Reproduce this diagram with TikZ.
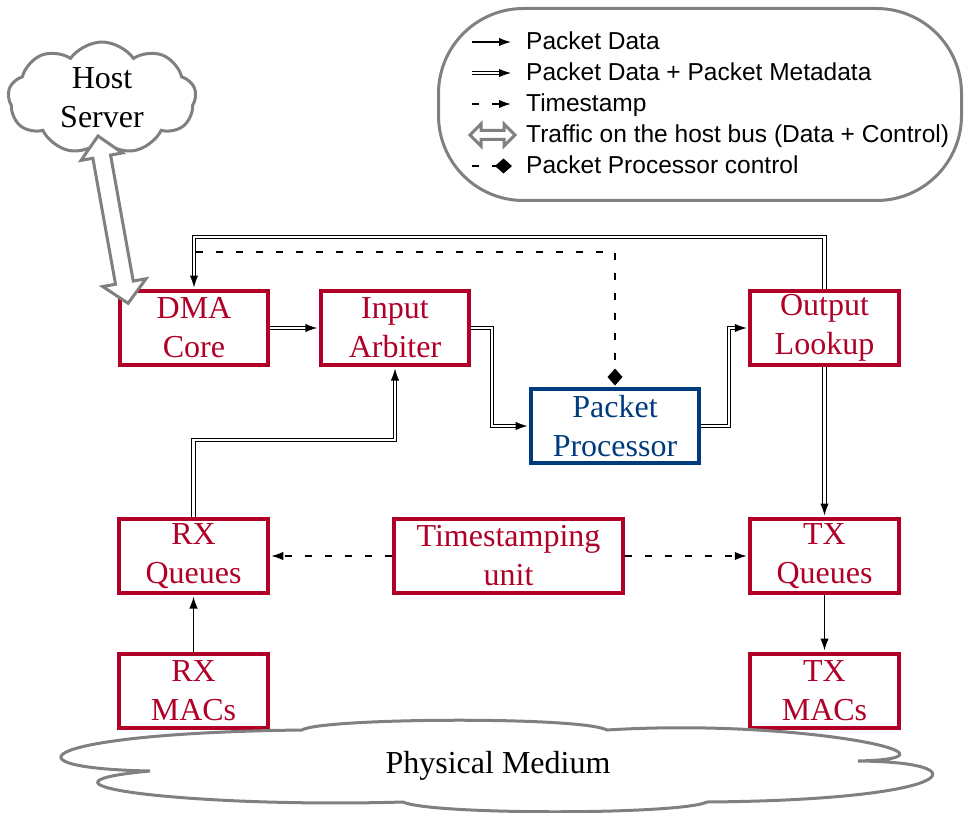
\documentclass[tikz,border=0pt]{standalone}
\usepackage{fontspec}
\setmainfont{Liberation Serif}
\newfontfamily\legendfont{Liberation Sans}
\usetikzlibrary{shapes.symbols,arrows.meta,calc}
\definecolor{crim}{RGB}{176,0,40}
\definecolor{navy}{RGB}{0,60,125}
\definecolor{cgray}{RGB}{128,128,128}
\begin{document}
\begin{tikzpicture}[x=1pt,y=-1pt,
 blk/.style={draw=crim, text=crim, line width=4pt, minimum width=148.5pt, minimum height=74pt, inner sep=0pt, align=center, font=\fontsize{32}{39}\selectfont},
 ppblk/.style={blk, draw=navy, text=navy, minimum width=168pt},
 tip/.style={-{Latex[length=12pt,width=8.5pt]}, shorten >=1.5pt},
 data/.style={line width=1.3pt, tip},
 meta/.style={double=white, draw=black, line width=1.1pt, double distance=2.2pt, tip},
 tstamp/.style={line width=1.4pt, dash pattern=on 7pt off 13pt, tip},
 ctrl/.style={line width=1.4pt, dash pattern=on 7pt off 13pt, -{Diamond[length=17pt,width=15pt]}, shorten >=1.5pt},
 grayline/.style={draw=cgray, line width=3pt},
 legtext/.style={anchor=base west, inner sep=0pt, font=\legendfont\fontsize{24.5}{29}\selectfont},
 bigtext/.style={font=\fontsize{32}{39}\selectfont, align=center, inner sep=0pt}
]
\useasboundingbox (0,0) rectangle (966,813);

% legend
\node[grayline, rounded corners=85pt, minimum width=523pt, minimum height=192pt] (legend) at (700,104.5) {};
\coordinate (l1a) at (472,42);  \coordinate (l1b) at (511,42);
\coordinate (l2a) at (472,73);  \coordinate (l2b) at (511,73);
\coordinate (l3a) at (472,104); \coordinate (l3b) at (511,104);
\coordinate (l5a) at (472,166); \coordinate (l5b) at (512,166);
\draw[data, shorten >=0pt] (l1a) -- (l1b);
\draw[meta, shorten >=0pt] (l2a) -- (l2b);
\draw[tstamp, shorten >=0pt] (l3a) -- (l3b);
\draw[grayline, fill=white, line join=miter] (470,135) -- (481,124) -- (481,130.5) -- (504,130.5) -- (504,124) -- (515,135) -- (504,146) -- (504,139.5) -- (481,139.5) -- (481,146) -- cycle;
\draw[ctrl, shorten >=0pt] (l5a) -- (l5b);
\node[legtext] (t1) at (526,50) {Packet Data};
\node[legtext] (t2) at (526,81) {Packet Data + Packet Metadata};
\node[legtext] (t3) at (526,112) {Timestamp};
\node[legtext] (t4) at (526,143) {Traffic on the host bus (Data + Control)};
\node[legtext] (t5) at (526,174) {Packet Processor control};

% blocks
\node[blk] (dma) at (194,328) {DMA\\Core};
\node[blk] (arb) at (395,328) {Input\\Arbiter};
\node[ppblk] (pp) at (615,426) {Packet\\Processor};
\node[blk] (ol) at (824.5,328) {Output\\Lookup};
\node[blk] (rxq) at (193.5,556) {RX\\Queues};
\node[blk, minimum width=229pt] (ts) at (508.5,556) {Timestamping\\unit};
\node[blk] (txq) at (824.5,556) {TX\\Queues};
\node[blk] (rxm) at (193.5,691) {RX\\MACs};
\node[blk] (txm) at (824.5,691) {TX\\MACs};

% connectors
\draw[meta] (dma.east) -- (arb.west);
\draw[meta] (arb.east) -- ++(20.5,0) |- (pp.west);
\draw[meta] (pp.east) -- ++(28,0) |- (ol.west);
\draw[meta] (ol.north) -- ++(0,-52) -| (dma.north);
\draw[meta] (rxq.north) -- ++(0,-77) -| (arb.south);
\draw[meta] (ol.south) -- (txq.north);
\draw[data] (txq.south) -- (txm.north);
\draw[data] (rxm.north) -- (rxq.south);
\draw[tstamp] (ts.west) -- (rxq.east);
\draw[tstamp] (ts.east) -- (txq.west);
\coordinate (cstart) at (196,252);
\draw[ctrl] (cstart) -| (pp.north);

% host server
\node[cloud, grayline, fill=white, cloud puffs=9, cloud puff arc=110, aspect=1.6, minimum width=188pt, minimum height=112pt, bigtext] (host) at (102,98) {Host\\Server};
\begin{scope}[shift={(98,136)}, rotate=-79.8]
\draw[grayline, fill=white, line join=miter] (0,0) -- (21,21) -- (21,9) -- (149,9) -- (149,22) -- (170,0) -- (149,-22) -- (149,-9) -- (21,-9) -- (21,-21) -- cycle;
\end{scope}

% physical medium
\draw[grayline, fill=white] (302,730) .. controls (320,718) and (580,716) .. (607,730)
  .. controls (800,718) and (985,758) .. (858,761)
  .. controls (985,762) and (960,800) .. (707,802)
  .. controls (680,815) and (430,815) .. (403,802)
  .. controls (200,808) and (0,785) .. (150,771)
  .. controls (-5,768) and (40,733) .. (302,730) -- cycle;
\node[bigtext] (phys) at (498,766) {Physical Medium};
\end{tikzpicture}
\end{document}
